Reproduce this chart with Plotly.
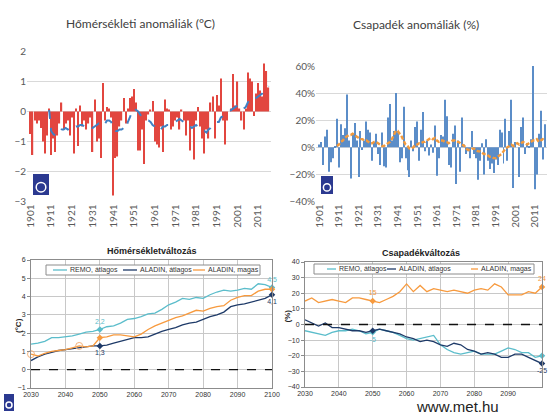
import plotly.graph_objects as go

W, H = 548, 414

# ---------------- data: observed anomalies ----------------
temp_years = list(range(1901, 2017))
temp_anom = [
    -0.75, -1.45, -0.3, -0.4, -0.3, -0.55, -1.0, -1.4, -0.8, 0.1,
    -1.45, -0.9, -1.35, -0.8, -0.4, 0.3, -0.6, -0.4, -0.3, -0.8,
    -0.2, -1.4, 0.1, -1.15, 0.2, -0.5, -0.3, -0.6, -0.4, -0.2,
    -1.35, 0.4, -1.0, -0.9, -1.55, 0.95, -0.3, 0.15, 0.1, -0.2,
    -2.8, -1.55, -1.5, -0.5, -0.3, 0.45, -0.4, 0.1, 0.45, 0.5,
    0.75, 0.3, -1.3, -1.3, -0.6, -1.75, -0.3, -0.1, 0.05, 0.35,
    -1.0, -1.1, -1.2, -0.5, -1.35, 0.4, 0.1, 0.05, -0.6, -0.5,
    -0.3, -0.2, -0.6, 0.05, -0.3, -0.8, -0.3, -1.3, -0.5, -1.6,
    -0.3, 0.15, -0.5, -0.9, -1.4, -0.6, -0.9, 0.3, 0.5, -0.9,
    0.55, 0.2, 1.1, -0.3, -1.1, -0.3, 0.0, 0.1, 1.25, 0.2,
    1.0, 0.1, -0.3, -0.6, 0.1, 1.3, 1.1, 1.0, -0.15, 0.6,
    0.95, 0.7, 0.5, 1.6, 1.35, 0.8,
]
temp_ma_years = list(range(1910, 2017))
temp_ma = [
    0.05, -0.65, -0.75, -0.8, -0.7, -0.7, -0.6, -0.6, -0.55, -0.6,
    -0.55, -0.6, -0.55, -0.5, -0.5, -0.45, -0.45, -0.5, -0.45, -0.5,
    -0.5, -0.55, -0.5, -0.45, -0.4, -0.45, -0.35, -0.4, -0.3, -0.3,
    -0.35, -0.6, -0.65, -0.65, -0.6, -0.6, -0.55, -0.6, -0.35, -0.2,
    0.0, 0.1, 0.05, 0.0, -0.1, -0.2, -0.25, -0.3, -0.3, -0.35,
    -0.45, -0.5, -0.6, -0.65, -0.6, -0.5, -0.5, -0.45, -0.45, -0.4,
    -0.4, -0.35, -0.3, -0.25, -0.3, -0.35, -0.45, -0.5, -0.5, -0.55,
    -0.5, -0.45, -0.5, -0.55, -0.65, -0.65, -0.7, -0.6, -0.55, -0.45,
    -0.4, -0.35, -0.35, -0.2, -0.15, -0.1, -0.05, 0.0, 0.05, 0.1,
    0.15, 0.2, 0.15, 0.05, 0.1, 0.15, 0.3, 0.4, 0.45, 0.4,
    0.45, 0.5, 0.55, 0.6, 0.7, 0.75, 0.85,
]

prec_years = list(range(1901, 2017))
prec_anom = [
    2, 4, -13, 8, 13, -18, -11, -8, 1, 21,
    -15, 17, 9, 14, 39, 5, -23, 10, 18, 5,
    -22, 12, -2, 5, 19, 13, 11, -10, 4, 10,
    -5, -13, 11, -14, -15, 22, 32, 5, 12, 40,
    12, -11, -8, 30, -8, -17, -22, 5, -3, 15,
    19, -10, 13, 26, -3, 5, -6, 2, -4, 16,
    -21, -8, 9, 8, 35, 23, -13, -15, 10, 16,
    -27, 5, -18, 22, 2, -5, -3, -8, 12, -5,
    -8, -24, -10, 3, -20, 6, -10, -16, -12,
    -19, -9, -13, 13, 11, -12, 21, -10, 12, 35,
    -30, 4, 0, -22, 15, 22, -5, 3, 1, 6,
    64, -31, -20, 10, 27, -9, 17,
]
prec_ma_years = list(range(1910, 2017))
prec_ma = [
    1, 2, 4, 5, 7, 8, 9, 9, 10, 9,
    8, 7, 6, 6, 5, 5, 4, 3, 3, 4,
    4, 3, 2, 1, 1, 2, 3, 4, 6, 9,
    12, 12, 10, 8, 5, 2, 1, -1, -1, 0,
    2, 2, 3, 3, 4, 4, 5, 6, 7, 6,
    7, 5, 4, 5, 5, 4, 4, 3, 4, 5,
    5, 4, 4, 3, 2, 1, -1, -2, -2, -1,
    -1, -2, -3, -3, -4, -5, -5, -6, -7, -7,
    -8, -8, -7, -6, -5, -3, -1, 0, 1, 2,
    1, 2, 3, 2, 3, 4, 3, 2, 3, 4,
    5, 5, 6, 4, 5, 6, 5,
]

# ---------------- data: projections ----------------
proj_years = list(range(2030, 2101, 2))
series_names = ["REMO, átlagos", "ALADIN, átlagos", "ALADIN, magas"]
t_remo = [1.40, 1.45, 1.55, 1.75, 1.75, 1.80, 1.85, 1.95, 2.05, 2.10,
          2.20, 2.35, 2.40, 2.55, 2.75, 2.80, 2.90, 3.05, 3.10, 3.30,
          3.55, 3.70, 3.90, 3.85, 3.95, 3.90, 4.10, 4.25, 4.35, 4.30,
          4.35, 4.45, 4.40, 4.70, 4.65, 4.50]
t_aladin = [0.50, 0.70, 0.85, 0.95, 1.05, 1.10, 1.15, 1.20, 1.25, 1.30,
            1.30, 1.35, 1.45, 1.55, 1.65, 1.75, 1.75, 1.80, 1.95, 2.10,
            2.20, 2.30, 2.45, 2.55, 2.60, 2.75, 2.90, 3.00, 3.15, 3.45,
            3.55, 3.60, 3.70, 3.80, 3.90, 4.10]
t_aladin_high = [0.85, 0.75, 0.90, 1.00, 1.05, 1.10, 1.20, 1.30, 1.25, 1.30,
                 1.75, 1.80, 1.90, 1.90, 1.85, 1.80, 1.95, 2.20, 2.40, 2.55,
                 2.70, 2.85, 2.95, 3.10, 3.25, 3.20, 3.35, 3.45, 3.50, 3.80,
                 3.95, 4.05, 4.05, 4.30, 4.40, 4.40]
p_remo = [-4, -5, -6, -7, -5, -4, -4, -3, -4, -6,
          -5, -3, -4, -5, -7, -9, -10, -9, -8, -7,
          -13, -16, -18, -19, -18, -17, -19, -19, -19, -17,
          -15, -16, -18, -18, -21, -20]
p_aladin = [3, 1, -1, 1, -2, -2, -3, -4, -4, -5,
            -4, -3, -4, -5, -6, -8, -9, -11, -10, -11,
            -13, -14, -12, -13, -16, -17, -19, -18, -19, -21,
            -21, -19, -19, -21, -23, -25]
p_aladin_high = [15, 17, 14, 15, 16, 15, 14, 17, 17, 16,
                 15, 14, 16, 18, 21, 26, 21, 25, 21, 23,
                 22, 21, 22, 21, 20, 22, 23, 22, 26, 24,
                 19, 19, 19, 21, 20, 24]

TEMP_TICKS = list(range(1901, 2012, 10))
PROJ_TICKS = list(range(2030, 2101, 10))
HOLLOW_MARK_YEARS = [2030, 2044]

# ---------------- styling ----------------
RED = "#E2463F"
BLUE_BAR = "#5B8DC8"
MA_BLUE = "#3F80C4"
MA_ORANGE = "#F39A3C"
TEAL = "#5BBDCB"
NAVY = "#1E3A68"
ORANGE = "#F79A3E"
line_colors = [TEAL, NAVY, ORANGE]
TOPFONT = "Lato, 'Open Sans', sans-serif"
BOTFONT = "'Liberation Sans', Arial, sans-serif"


def px(x):
    return x / W


def py(y):
    return 1 - y / H


fig = go.Figure()

# top-left: temperature anomalies
fig.add_trace(go.Bar(x=temp_years, y=temp_anom, width=0.6, marker_color=RED,
                     marker_line_width=0, xaxis="x", yaxis="y", showlegend=False))
fig.add_trace(go.Scatter(x=temp_ma_years, y=temp_ma, mode="lines",
                         line=dict(color=MA_BLUE, width=2, dash="dash"),
                         xaxis="x", yaxis="y", showlegend=False))

# top-right: precipitation anomalies
fig.add_trace(go.Bar(x=prec_years, y=prec_anom, width=0.5, marker_color=BLUE_BAR,
                     marker_line_width=0, xaxis="x2", yaxis="y2", showlegend=False))
fig.add_trace(go.Scatter(x=prec_ma_years, y=prec_ma, mode="lines",
                         line=dict(color=MA_ORANGE, width=2.4, dash="4px,2px"),
                         xaxis="x2", yaxis="y2", showlegend=False))

# bottom: projections
temp_series = [t_remo, t_aladin, t_aladin_high]
prec_series = [p_remo, p_aladin, p_aladin_high]
for ser, col, nm in zip(temp_series, line_colors, series_names):
    fig.add_trace(go.Scatter(x=proj_years, y=ser, mode="lines", name=nm,
                             line=dict(color=col, width=1.3),
                             xaxis="x3", yaxis="y3", showlegend=False))
for ser, col, nm in zip(prec_series, line_colors, series_names):
    fig.add_trace(go.Scatter(x=proj_years, y=ser, mode="lines", name=nm,
                             line=dict(color=col, width=1.3),
                             xaxis="x4", yaxis="y4", showlegend=False))

# faint hollow markers on the ALADIN high temperature curve
fig.add_trace(go.Scatter(
    x=HOLLOW_MARK_YEARS, y=[t_aladin_high[proj_years.index(yr)] for yr in HOLLOW_MARK_YEARS],
    mode="markers", marker=dict(symbol="circle-open", size=7, color="#F5B27A", line=dict(width=1)),
    xaxis="x3", yaxis="y3", showlegend=False, cliponaxis=False))

i50 = proj_years.index(2050)
i100 = proj_years.index(2100)


def tfmt(v):
    return f"{v:.1f}".replace(".", ",")


def pfmt(v):
    return f"{v:.0f}"


# marker points + labels (temperature)
temp_label_pos = ["top center", "bottom center", None]
for ser, col, pos in zip(temp_series, line_colors, temp_label_pos):
    pts = [ser[i50], ser[i100]]
    fig.add_trace(go.Scatter(
        x=[2050, 2100], y=pts, mode="markers+text" if pos else "markers",
        marker=dict(color=col, size=5, symbol="diamond"),
        text=[tfmt(v) for v in pts] if pos else None,
        textposition=pos or "top center",
        textfont=dict(color=col, size=7, family=BOTFONT),
        xaxis="x3", yaxis="y3", showlegend=False, cliponaxis=False))

# marker points + labels (precipitation)
prec_label_spec = [([True, False], "bottom center"),
                   ([False, True], "bottom center"),
                   ([True, True], "top center")]
for ser, col, (show, pos) in zip(prec_series, line_colors, prec_label_spec):
    pts = [ser[i50], ser[i100]]
    fig.add_trace(go.Scatter(
        x=[2050, 2100], y=pts, mode="markers+text",
        marker=dict(color=col, size=5, symbol="diamond"),
        text=[pfmt(v) if s else "" for v, s in zip(pts, show)],
        textposition=pos,
        textfont=dict(color=col, size=7, family=BOTFONT),
        xaxis="x4", yaxis="y4", showlegend=False, cliponaxis=False))

top_tick = dict(size=10, color="#595959", family=TOPFONT)
bot_tick = dict(size=7, color="#333333", family=BOTFONT)

common_top_x = dict(tickangle=-90, tickfont=top_tick, showgrid=False, zeroline=False,
                    showline=False, automargin=False, ticks="")
common_top_y = dict(tickfont=top_tick, gridcolor="#D9D9D9", gridwidth=1,
                    zeroline=False, showline=False, automargin=False, ticks="")
common_bot = dict(tickfont=bot_tick, gridcolor="#C8C8C8", zeroline=False,
                  showline=True, mirror=True, linecolor="#8C8C8C", linewidth=1,
                  automargin=False)
bot_x = dict(ticks="", **common_bot)
bot_y = dict(ticks="outside", ticklen=3, tickcolor="#8C8C8C", **common_bot)

fig.update_layout(
    width=W, height=H,
    margin=dict(l=0, r=0, t=0, b=0),
    paper_bgcolor="white", plot_bgcolor="white",
    barmode="overlay",
    xaxis=dict(domain=[px(27), px(271)], range=[1899.3, 2017.2], tickvals=TEMP_TICKS,
               anchor="y", **common_top_x),
    yaxis=dict(domain=[py(201.5), py(51.5)], range=[-3, 2], dtick=1,
               anchor="x", **common_top_y),
    xaxis2=dict(domain=[px(316), px(547)], range=[1899.3, 2017.2], tickvals=TEMP_TICKS,
                anchor="y2", **common_top_x),
    yaxis2=dict(domain=[py(201.5), py(66)], range=[-40, 60], dtick=20,
                ticksuffix="%", anchor="x2", **common_top_y),
    xaxis3=dict(domain=[px(31), px(272)], range=[2030, 2100], tickvals=PROJ_TICKS,
                anchor="y3", **bot_x),
    yaxis3=dict(domain=[py(388), py(260)], range=[-1, 6], dtick=1,
                anchor="x3", **bot_y),
    xaxis4=dict(domain=[px(305), px(542)], range=[2030, 2100], tickvals=PROJ_TICKS,
                anchor="y4", **bot_x),
    yaxis4=dict(domain=[py(387), py(262)], range=[-40, 40], dtick=10,
                anchor="x4", **bot_y),
)

# zero reference lines (dashed) in the projection panels
for xa, ya in [("x3", "y3"), ("x4", "y4")]:
    fig.add_shape(type="line", xref=f"{xa} domain", yref=ya, x0=0, x1=1, y0=0, y1=0,
                  line=dict(color="#111111", width=1.3, dash="dash"))

# titles
ann = [
    dict(text="Hőmérsékleti anomáliák (°C)", x=px(140), y=py(23), size=12, fam=TOPFONT, col="#404040"),
    dict(text="Csapadék anomáliák (%)", x=px(416), y=py(24), size=12, fam=TOPFONT, col="#404040"),
    dict(text="<b>Hőmérsékletváltozás</b>", x=px(152), y=py(251), size=9, fam=BOTFONT, col="#222222"),
    dict(text="<b>Csapadékváltozás</b>", x=px(421), y=py(253), size=9, fam=BOTFONT, col="#222222"),
    dict(text="www.met.hu", x=px(457), y=py(406), size=15, fam=BOTFONT, col="#222222"),
]
for a in ann:
    fig.add_annotation(text=a["text"], x=a["x"], y=a["y"], xref="paper", yref="paper",
                       showarrow=False, xanchor="center", yanchor="middle",
                       font=dict(size=a["size"], family=a["fam"], color=a["col"]))

fig.add_annotation(text="<b>(°C)</b>", x=px(12), y=py(335), xref="paper", yref="paper",
                   showarrow=False, textangle=-90, font=dict(size=8, family=BOTFONT, color="#222"))
fig.add_annotation(text="<b>(%)</b>", x=px(287), y=py(325), xref="paper", yref="paper",
                   showarrow=False, textangle=-90, font=dict(size=8, family=BOTFONT, color="#222"))

# legends (drawn as boxes with short line samples)
legend_specs = [
    dict(box=(46, 260, 265, 275), items=[(53, 67), (123, 137), (193, 205)]),
    dict(box=(314, 534, 264, 274), items=[(327, 336), (387, 396), (471, 478)]),
]
for spec in legend_specs:
    x0, x1, y0, y1 = spec["box"]
    fig.add_shape(type="rect", xref="paper", yref="paper", x0=px(x0), x1=px(x1),
                  y0=py(y1), y1=py(y0), line=dict(color="#8C8C8C", width=1),
                  fillcolor="white", layer="above")
    ym = (y0 + y1) / 2
    for (lx0, lx1), col, nm in zip(spec["items"], line_colors, series_names):
        fig.add_shape(type="line", xref="paper", yref="paper", x0=px(lx0), x1=px(lx1),
                      y0=py(ym), y1=py(ym), line=dict(color=col, width=1.3), layer="above")
        fig.add_annotation(text=nm, x=px(lx1 + 1), y=py(ym), xref="paper", yref="paper",
                           showarrow=False, xanchor="left", yanchor="middle",
                           font=dict(size=7, family=BOTFONT, color="#333"))

# small institute logos (simple emblem)
for (lx0, lx1, ly0, ly1) in [(33, 49, 174, 195), (321, 333, 176, 194), (4, 14, 394, 411)]:
    fig.add_shape(type="rect", xref="paper", yref="paper", x0=px(lx0), x1=px(lx1),
                  y0=py(ly1), y1=py(ly0), fillcolor="#2B3990", line=dict(width=0))
    cx = (lx0 + lx1) / 2
    fig.add_shape(type="circle", xref="paper", yref="paper",
                  x0=px(cx - (lx1 - lx0) * 0.3), x1=px(cx + (lx1 - lx0) * 0.3),
                  y0=py(ly1 - 3), y1=py(ly1 - 3 - (lx1 - lx0) * 0.6),
                  line=dict(color="white", width=1.5))

fig.write_html("out.html", config={"displayModeBar": False},
               post_script="document.body.style.margin='0';document.body.style.overflow='hidden';")
